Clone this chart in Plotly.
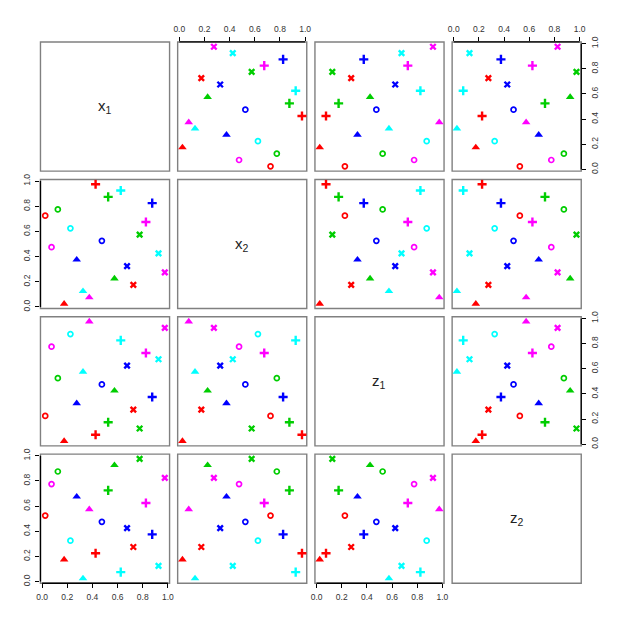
import plotly.graph_objects as go

# ---- data (20 points, 5 colour groups x 4 symbols) ----
var_names = ["x<sub>1</sub>", "x<sub>2</sub>", "z<sub>1</sub>", "z<sub>2</sub>"]
point_color = ["red"] * 4 + ["green"] * 4 + ["blue"] * 4 + ["cyan"] * 4 + ["magenta"] * 4
point_shape = ["triangle", "plus", "x", "circle"] * 5
x1 = [0.175, 0.425, 0.725, 0.025,
      0.575, 0.525, 0.775, 0.125,
      0.275, 0.875, 0.675, 0.475,
      0.325, 0.625, 0.925, 0.225,
      0.375, 0.825, 0.975, 0.075]
x2 = [0.025, 0.975, 0.175, 0.725,
      0.225, 0.875, 0.575, 0.775,
      0.375, 0.825, 0.325, 0.525,
      0.125, 0.925, 0.425, 0.625,
      0.075, 0.675, 0.275, 0.475]
z1 = [0.025, 0.075, 0.275, 0.225,
      0.425, 0.175, 0.125, 0.525,
      0.325, 0.375, 0.625, 0.475,
      0.575, 0.825, 0.675, 0.875,
      0.975, 0.725, 0.925, 0.775]
z2 = [0.175, 0.225, 0.275, 0.525,
      0.925, 0.725, 0.975, 0.875,
      0.675, 0.375, 0.425, 0.475,
      0.025, 0.075, 0.125, 0.325,
      0.575, 0.625, 0.825, 0.775]
tick_vals = [0.0, 0.2, 0.4, 0.6, 0.8, 1.0]
tick_text = ["0.0", "0.2", "0.4", "0.6", "0.8", "1.0"]

# ---- styles ----
color_map = {"red": "#FF0000", "green": "#00CD00", "blue": "#0000FF",
             "cyan": "#00FFFF", "magenta": "#FF00FF"}
symbol_map = {"triangle": dict(symbol="triangle-up", size=7.5, line=dict(width=0)),
              "plus": dict(symbol="cross-thin-open", size=6.5, line=dict(width=2.4)),
              "x": dict(symbol="x-thin-open", size=5.5, line=dict(width=2.4)),
              "circle": dict(symbol="circle-open", size=5, line=dict(width=1.7))}

data = [x1, x2, z1, z2]
n = len(data)
W = 623
col_left = [37, 176.2, 315.5, 454.7]
row_top = [36.5, 176.0, 315.3, 454.7]
PW = 131.0
lo, hi = 0.025, 0.975
ext = (hi - lo) * 0.04
rng = [lo - ext, hi + ext]

fig = go.Figure()
layout = dict(width=W, height=W, margin=dict(l=0, r=0, t=0, b=0),
              paper_bgcolor="white", plot_bgcolor="white", showlegend=False)
shapes = []
annotations = []
tickfont = dict(family="Liberation Sans, Arial, sans-serif", size=8.5, color="#333333")

for i in range(n):
    for j in range(n):
        k = i * n + j + 1
        xa = "xaxis" if k == 1 else f"xaxis{k}"
        ya = "yaxis" if k == 1 else f"yaxis{k}"
        xr = "x" if k == 1 else f"x{k}"
        yr = "y" if k == 1 else f"y{k}"
        l = col_left[j] / W
        r = (col_left[j] + PW) / W
        t = 1 - row_top[i] / W
        b = 1 - (row_top[i] + PW) / W
        xaxis = dict(domain=[l, r], range=rng, anchor=yr, showgrid=False, zeroline=False,
                     showline=False, showticklabels=False, ticks="", fixedrange=True)
        yaxis = dict(domain=[b, t], range=rng, anchor=xr, showgrid=False, zeroline=False,
                     showline=False, showticklabels=False, ticks="", fixedrange=True)
        axstyle = dict(showticklabels=True, ticks="outside", ticklen=4, tickwidth=1.3,
                       tickcolor="black", tickvals=tick_vals, ticktext=tick_text,
                       tickfont=tickfont, ticklabelstandoff=2)
        # R pairs axis placement
        if i == 0 and j % 2 == 1:
            xaxis.update(axstyle, side="top")
            shapes.append(dict(type="line", xref=xr, yref=f"{yr} domain", x0=0, x1=1, y0=1, y1=1,
                               line=dict(color="black", width=1.3), layer="above"))
        if i == n - 1 and j % 2 == 0:
            xaxis.update(axstyle, side="bottom")
            shapes.append(dict(type="line", xref=xr, yref=f"{yr} domain", x0=0, x1=1, y0=0, y1=0,
                               line=dict(color="black", width=1.3), layer="above"))
        if j == 0 and i % 2 == 1:
            yaxis.update(axstyle, side="left", tickangle=-90)
            shapes.append(dict(type="line", xref=f"{xr} domain", yref=yr, x0=0, x1=0, y0=0, y1=1,
                               line=dict(color="black", width=1.3), layer="above"))
        if j == n - 1 and i % 2 == 0:
            yaxis.update(axstyle, side="right", tickangle=-90)
            shapes.append(dict(type="line", xref=f"{xr} domain", yref=yr, x0=1, x1=1, y0=0, y1=1,
                               line=dict(color="black", width=1.3), layer="above"))
        layout[xa] = xaxis
        layout[ya] = yaxis
        # panel box
        shapes.append(dict(type="rect", xref="paper", yref="paper", x0=l, x1=r, y0=b, y1=t,
                           line=dict(color="#808080", width=1.4), layer="below"))
        if i == j:
            annotations.append(dict(text=var_names[i], xref=f"{xr} domain", yref=f"{yr} domain",
                                    x=0.5, y=0.5, showarrow=False,
                                    font=dict(family="Liberation Sans, Arial, sans-serif",
                                              size=15, color="#222222")))
            fig.add_trace(go.Scatter(x=[None], y=[None], xaxis=xr, yaxis=yr, hoverinfo="skip"))
            continue
        for shp in ["triangle", "plus", "x", "circle"]:
            idx = [p for p in range(len(x1)) if point_shape[p] == shp]
            fig.add_trace(go.Scatter(
                x=[data[j][p] for p in idx], y=[data[i][p] for p in idx],
                mode="markers", xaxis=xr, yaxis=yr, hoverinfo="skip",
                marker=dict(color=[color_map[point_color[p]] for p in idx], **symbol_map[shp])))

layout["shapes"] = shapes
layout["annotations"] = annotations
fig.update_layout(**layout)
fig.write_html("out.html", config={"displayModeBar": False},
               post_script="document.body.style.margin='0';document.body.style.overflow='hidden';")
